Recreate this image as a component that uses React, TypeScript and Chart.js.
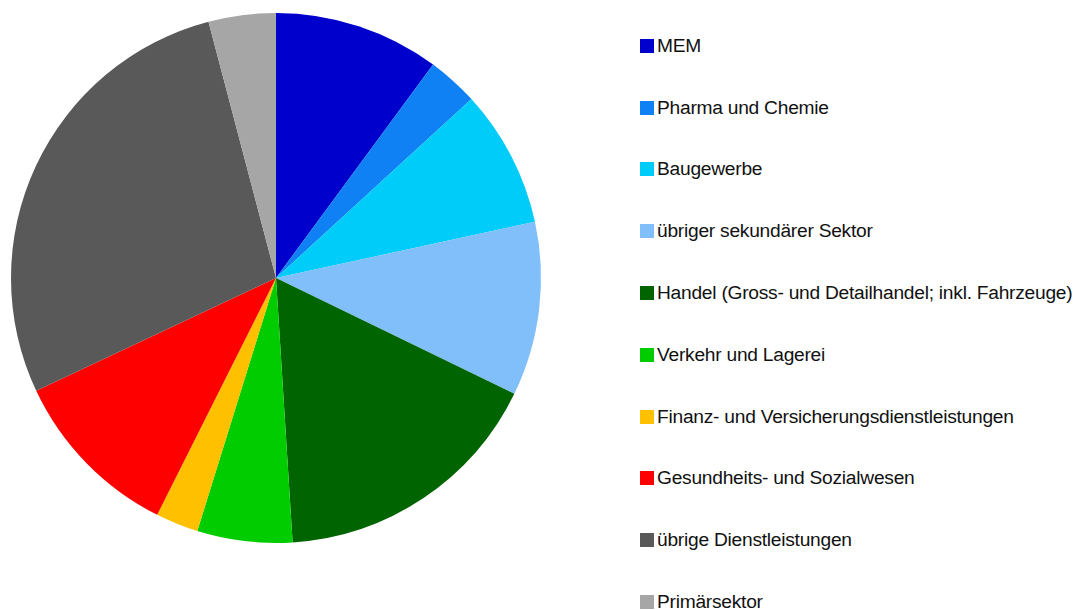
import React, { useEffect, useRef } from "react";
import { Chart, registerables } from "chart.js";

Chart.register(...registerables);

const categories: string[] = [
  "MEM",
  "Pharma und Chemie",
  "Baugewerbe",
  "übriger sekundärer Sektor",
  "Handel (Gross- und Detailhandel; inkl. Fahrzeuge)",
  "Verkehr und Lagerei",
  "Finanz- und Versicherungsdienstleistungen",
  "Gesundheits- und Sozialwesen",
  "übrige Dienstleistungen",
  "Primärsektor",
];

const shares: number[] = [10.1, 3.1, 8.4, 10.6, 16.8, 5.8, 2.6, 10.6, 27.9, 4.1];

const colors: string[] = [
  "#0000CD",
  "#1080F5",
  "#00CCFA",
  "#80BFFA",
  "#006400",
  "#00CC00",
  "#FFC000",
  "#FF0000",
  "#595959",
  "#A6A6A6",
];

export default function App() {
  const canvasRef = useRef<HTMLCanvasElement | null>(null);

  useEffect(() => {
    if (!canvasRef.current) return;
    const chart = new Chart(canvasRef.current, {
      type: "pie",
      data: {
        labels: categories,
        datasets: [
          {
            data: shares,
            backgroundColor: colors,
            borderWidth: 0,
            hoverBorderWidth: 0,
            hoverOffset: 0,
          },
        ],
      },
      options: {
        responsive: false,
        animation: false,
        layout: { padding: { left: 3, right: 27, top: 5, bottom: 59 } },
        plugins: {
          legend: { display: false },
          tooltip: { enabled: false },
        },
      },
    });
    return () => chart.destroy();
  }, []);

  return (
    <div style={{ position: "relative", width: 1075, height: 602, background: "#fff", overflow: "visible" }}>
      <canvas
        ref={canvasRef}
        width={560}
        height={594}
        style={{ position: "absolute", left: 0, top: 0, width: 560, height: 594 }}
      />
      <div
        style={{
          position: "absolute",
          left: 632,
          top: 7,
          fontFamily: "'Liberation Sans', Arial, sans-serif",
          fontSize: 19.2,
          color: "#111",
          whiteSpace: "nowrap",
          zIndex: 2,
        }}
      >
        {categories.map((c, i) => (
          <div
            key={c}
            style={{ height: 61.8, display: "flex", alignItems: "center" }}
          >
            <span
              style={{
                display: "inline-block",
                width: 14,
                height: 14,
                background: colors[i],
                marginRight: 3,
                flex: "none",
              }}
            />
            <span style={{ letterSpacing: "-0.25px" }}>{c}</span>
          </div>
        ))}
      </div>
    </div>
  );
}
